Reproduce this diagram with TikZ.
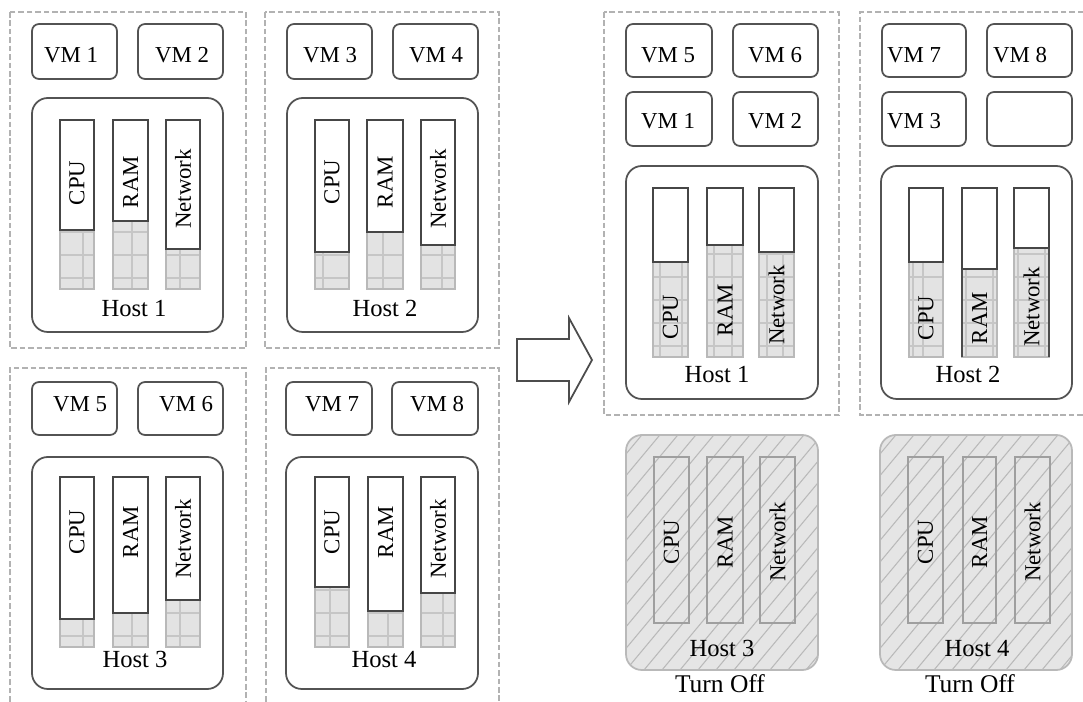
\documentclass[tikz,border=0pt]{standalone}
\usepackage{fontspec}
\setmainfont{Liberation Serif}
\tikzset{
 panel/.style={draw=gray!60, line width=0.9pt, dash pattern=on 3.2pt off 1.6pt},
 vmbox/.style={draw=gray!65!black, line width=1pt, rounded corners=4pt},
 hostbox/.style={draw=gray!65!black, line width=1pt, rounded corners=9pt},
 barline/.style={draw=gray!55!black, line width=0.9pt},
 cellfill/.style={fill=gray!22},
 gridl/.style={draw=gray!45, line width=0.7pt},
 celledge/.style={draw=gray!55, line width=0.7pt},
 vmtext/.style={font=\fontsize{13}{15}\selectfont, anchor=base, inner sep=0},
 hosttext/.style={font=\fontsize{14}{16}\selectfont, anchor=base, inner sep=0},
 bartext/.style={font=\fontsize{13}{15}\selectfont, rotate=90, inner sep=0},
 offhost/.style={draw=gray!55, line width=1pt, rounded corners=9pt},
 hatch/.style={draw=gray!55, line width=0.6pt},
 offbar/.style={draw=gray!75, line width=0.8pt},
 arrowshape/.style={draw=gray!60!black, line width=1pt, fill=white},
}
% #1 x1, #2 x2, #3 top, #4 bottom, #5 fill top, #6 vertical grid x list
\newcommand{\mybarA}[6]{%
  \fill[cellfill] (#1,#5) rectangle (#2,#4);
  \begin{scope}
    \clip (#1,#5) rectangle (#2,#4);
    \foreach \vx in {#6} {\draw[gridl] (\vx,#5) -- (\vx,#4);}
    \foreach \k in {0,...,12} {\draw[gridl] (#1,#4-11-23*\k) -- (#2,#4-11-23*\k);}
  \end{scope}
  \draw[celledge] (#1,#5) rectangle (#2,#4);
  \draw[barline] (#1,#5) -- (#1,#3) -- (#2,#3) -- (#2,#5) -- cycle;
}
% #1 x1, #2 y1, #3 x2, #4 y2
\newcommand{\myoffhost}[4]{%
  \begin{scope}
    \clip[rounded corners=9pt] (#1,#2) rectangle (#3,#4);
    \fill[gray!20] (#1,#2) rectangle (#3,#4);
    \foreach \k in {-13,...,12} {\draw[hatch] (#1+\k*18,#4) -- ++(200,-240);}
  \end{scope}
  \draw[offhost] (#1,#2) rectangle (#3,#4);
}
\begin{document}
\begin{tikzpicture}[x=0.02cm,y=-0.02cm]
\useasboundingbox (0,0) rectangle (1083,702);
\fill[white] (0,0) rectangle (1083,702);
\clip (0,0) rectangle (1083,702);

% ---------- dashed panels ----------
\draw[panel] (10,12) rectangle (246,348);
\draw[panel] (265,12) rectangle (499,348);
\draw[panel] (10,710) -- (10,368) -- (246,368) -- (246,710);
\draw[panel] (266,710) -- (266,368) -- (499,368) -- (499,710);
\draw[panel] (604,12) rectangle (839,415);
\draw[panel] (1100,12) -- (860,12) -- (860,415) -- (1100,415);

% ---------- VM boxes ----------
\draw[vmbox] (32,24) rectangle (117,79);
\draw[vmbox] (138,24) rectangle (223,79);
\draw[vmbox] (287,24) rectangle (372,79);
\draw[vmbox] (393,24) rectangle (478,79);
\draw[vmbox] (32,382) rectangle (117,435);
\draw[vmbox] (138,382) rectangle (223,435);
\draw[vmbox] (286,382) rectangle (372,435);
\draw[vmbox] (392,382) rectangle (478,435);
\draw[vmbox] (626,24) rectangle (712,77);
\draw[vmbox] (733,24) rectangle (818,77);
\draw[vmbox] (626,92) rectangle (712,146);
\draw[vmbox] (733,92) rectangle (818,146);
\draw[vmbox] (882,24) rectangle (966,77);
\draw[vmbox] (987,24) rectangle (1072,77);
\draw[vmbox] (882,92) rectangle (966,146);
\draw[vmbox] (987,92) rectangle (1072,146);

\node[vmtext] (tvm1) at (71,63) {VM 1};
\node[vmtext] (tvm2) at (182,63) {VM 2};
\node[vmtext] (tvm3) at (330,63) {VM 3};
\node[vmtext] (tvm4) at (436,63) {VM 4};
\node[vmtext] (tvm5) at (80,412) {VM 5};
\node[vmtext] (tvm6) at (186,412) {VM 6};
\node[vmtext] (tvm7) at (332,412) {VM 7};
\node[vmtext] (tvm8) at (437,412) {VM 8};
\node[vmtext] (rvm5) at (668,63) {VM 5};
\node[vmtext] (rvm6) at (775,63) {VM 6};
\node[vmtext] (rvm1) at (668,129) {VM 1};
\node[vmtext] (rvm2) at (775,129) {VM 2};
\node[vmtext] (rvm7) at (914,63) {VM 7};
\node[vmtext] (rvm8) at (1020,63) {VM 8};
\node[vmtext] (rvm3) at (914,129) {VM 3};

% ---------- hosts (left) ----------
\draw[hostbox] (32,98) rectangle (223,332);
\draw[hostbox] (287,98) rectangle (478,332);
\draw[hostbox] (32,457) rectangle (223,689);
\draw[hostbox] (286,457) rectangle (478,689);

\mybarA{60}{94}{120}{289}{230}{83}
\mybarA{113}{148}{120}{289}{221}{132}
\mybarA{166}{200}{120}{289}{249}{180}
\mybarA{315}{349}{120}{289}{252}{323}
\mybarA{367}{403}{120}{289}{232}{383}
\mybarA{421}{455}{120}{289}{245}{442}
\mybarA{60}{94}{477}{647}{619}{83}
\mybarA{113}{148}{477}{647}{613}{132}
\mybarA{166}{200}{477}{647}{600}{180}
\mybarA{315}{349}{477}{647}{587}{330}
\mybarA{368}{403}{477}{647}{611}{388}
\mybarA{421}{455}{477}{647}{593}{443}

\node[bartext] (c1) at (77,183) {CPU};
\node[bartext] (r1) at (130.5,182) {RAM};
\node[bartext] (n1) at (183,189) {Network};
\node[bartext] (c2) at (332,182) {CPU};
\node[bartext] (r2) at (385,182) {RAM};
\node[bartext] (n2) at (438,189) {Network};
\node[bartext] (c3) at (77,532) {CPU};
\node[bartext] (r3) at (130.5,532) {RAM};
\node[bartext] (n3) at (183,539) {Network};
\node[bartext] (c4) at (332,532) {CPU};
\node[bartext] (r4) at (385.5,532) {RAM};
\node[bartext] (n4) at (438,539) {Network};

\node[hosttext] (h1) at (134,317) {Host 1};
\node[hosttext] (h2) at (385,317) {Host 2};
\node[hosttext] (h3) at (135,668) {Host 3};
\node[hosttext] (h4) at (384,668) {Host 4};

% ---------- arrow ----------
\draw[arrowshape] (517,339) -- (569,339) -- (569,318) -- (592,360) -- (569,402) -- (569,381) -- (517,381) -- cycle;

% ---------- hosts (right, active) ----------
\draw[hostbox] (626,166) rectangle (818,399);
\draw[hostbox] (881,166) rectangle (1072,399);

\mybarA{653}{688}{188}{357}{262}{660,682}
\mybarA{707}{743}{188}{357}{245}{714,732}
\mybarA{759}{794}{188}{357}{252}{767,783}
\mybarA{909}{943}{188}{357}{262}{913,923}
\mybarA{962}{997}{188}{357}{269}{966,993}
\mybarA{1014}{1049}{188}{357}{248}{1018,1045}
\draw[black!70, line width=1.1pt] (962,269) -- (962,357);
\draw[black!70, line width=1.1pt] (1049,248) -- (1049,357);

\node[bartext] (rc1) at (670.5,317) {CPU};
\node[bartext] (rr1) at (725,310) {RAM};
\node[bartext] (rn1) at (776.5,305) {Network};
\node[bartext] (rc2) at (926,318) {CPU};
\node[bartext] (rr2) at (979.5,318) {RAM};
\node[bartext] (rn2) at (1031.5,307) {Network};

\node[hosttext] (rh1) at (717,383) {Host 1};
\node[hosttext] (rh2) at (968,383) {Host 2};

% ---------- hosts (right, turned off) ----------
\myoffhost{626}{435}{818}{670}
\myoffhost{880}{435}{1072}{670}

\draw[offbar] (654,457) rectangle (689,623);
\draw[offbar] (707,457) rectangle (743,623);
\draw[offbar] (760,457) rectangle (795,623);
\draw[offbar] (908,457) rectangle (943,623);
\draw[offbar] (963,457) rectangle (996,623);
\draw[offbar] (1015,457) rectangle (1050,623);

\node[bartext] (oc3) at (671.5,542) {CPU};
\node[bartext] (or3) at (725,542) {RAM};
\node[bartext] (on3) at (777.5,542) {Network};
\node[bartext] (oc4) at (925.5,542) {CPU};
\node[bartext] (or4) at (979.5,542) {RAM};
\node[bartext] (on4) at (1032.5,542) {Network};

\node[hosttext] (oh3) at (722,657) {Host 3};
\node[hosttext] (oh4) at (977,657) {Host 4};
\node[hosttext, font=\fontsize{14.5}{16}\selectfont] (off3) at (720,693) {Turn Off};
\node[hosttext, font=\fontsize{14.5}{16}\selectfont] (off4) at (970,693) {Turn Off};
\end{tikzpicture}
\end{document}
